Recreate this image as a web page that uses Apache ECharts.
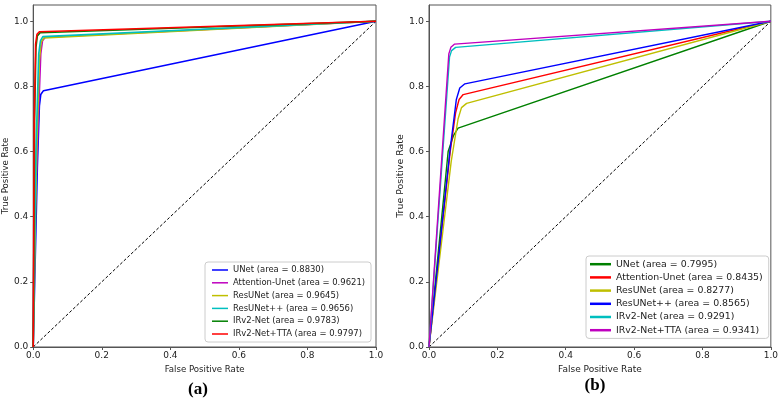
<!DOCTYPE html>
<html>
<head>
<meta charset="utf-8">
<script src="https://cdn.jsdelivr.net/npm/echarts@6/dist/echarts.min.js"></script>
<style>
html,body{margin:0;padding:0;background:#fff;}
#chart{width:781px;height:398px;}
</style>
</head>
<body>
<div id="chart"></div>
<script>
// ---------- DATA ----------
const tickValues = [0, 0.2, 0.4, 0.6, 0.8, 1.0];
const diagonal = [[0, 0], [1, 1]];

// Panel (a): ROC points [FPR, TPR]
const aLabels = [
  'UNet (area = 0.8830)',
  'Attention-Unet (area = 0.9621)',
  'ResUNet (area = 0.9645)',
  'ResUNet++ (area = 0.9656)',
  'IRv2-Net (area = 0.9783)',
  'IRv2-Net+TTA (area = 0.9797)'
];
const aUNet = [[0, 0], [0.012, 0.55], [0.018, 0.74], [0.022, 0.775], [0.03, 0.787], [1, 1]];
const aAttention = [[0, 0], [0.002, 0.3], [0.015, 0.7], [0.022, 0.9], [0.027, 0.94], [0.035, 0.951], [1, 1]];
const aResUNet = [[0, 0], [0.01, 0.6], [0.018, 0.88], [0.023, 0.935], [0.031, 0.949], [1, 1]];
const aResUNetPP = [[0, 0], [0.008, 0.6], [0.016, 0.9], [0.021, 0.94], [0.028, 0.953], [1, 1]];
const aIRv2 = [[0, 0], [0.004, 0.7], [0.008, 0.92], [0.012, 0.955], [0.02, 0.965], [1, 1]];
const aIRv2TTA = [[0, 0], [0.003, 0.7], [0.007, 0.93], [0.011, 0.96], [0.018, 0.968], [1, 1]];

// Panel (b): ROC points [FPR, TPR]
const bLabels = [
  'UNet (area = 0.7995)',
  'Attention-Unet (area = 0.8435)',
  'ResUNet (area = 0.8277)',
  'ResUNet++ (area = 0.8565)',
  'IRv2-Net (area = 0.9291)',
  'IRv2-Net+TTA (area = 0.9341)'
];
const bUNet = [[0, 0], [0.056, 0.6], [0.072, 0.65], [0.085, 0.672], [1, 1]];
const bAttention = [[0, 0], [0.062, 0.6], [0.078, 0.72], [0.088, 0.76], [0.1, 0.775], [1, 1]];
const bResUNet = [[0, 0], [0.065, 0.57], [0.085, 0.7], [0.095, 0.735], [0.11, 0.748], [1, 1]];
const bResUNetPP = [[0, 0], [0.061, 0.6], [0.08, 0.76], [0.09, 0.795], [0.105, 0.808], [1, 1]];
const bIRv2 = [[0, 0], [0.06, 0.89], [0.066, 0.91], [0.078, 0.92], [1, 1]];
const bIRv2TTA = [[0, 0], [0.058, 0.9], [0.064, 0.92], [0.075, 0.93], [1, 1]];

// ---------- STYLE ----------
const aColors = ['#0000ff', '#bf00bf', '#bfbf00', '#00bfbf', '#008000', '#ff0000'];
const bColors = ['#008000', '#ff0000', '#bfbf00', '#0000ff', '#00bfbf', '#bf00bf'];
const FONT = 'DejaVu Sans';
const AXIS_COLOR = '#555';

const aData = [aUNet, aAttention, aResUNet, aResUNetPP, aIRv2, aIRv2TTA];
const bData = [bUNet, bAttention, bResUNet, bResUNetPP, bIRv2, bIRv2TTA];

function xAx(gi, fs, nameFs) {
  return {
    type: 'value', gridIndex: gi, min: 0, max: 1,
    name: 'False Positive Rate', nameLocation: 'middle', nameGap: 12,
    nameTextStyle: {fontFamily: FONT, fontSize: nameFs, color: '#222'},
    axisLine: {show: true, lineStyle: {color: AXIS_COLOR, width: 1}},
    axisTick: {show: true, length: 3, lineStyle: {color: AXIS_COLOR}, customValues: tickValues},
    axisLabel: {fontFamily: FONT, fontSize: fs, color: '#222', margin: 4,
      customValues: tickValues, formatter: v => v.toFixed(1)},
    splitLine: {show: false}
  };
}
function yAx(gi, fs, nameFs, nameGap) {
  return {
    type: 'value', gridIndex: gi, min: 0, max: 1.05,
    name: 'True Positive Rate', nameLocation: 'middle', nameGap: nameGap, nameRotate: 90,
    nameTextStyle: {fontFamily: FONT, fontSize: nameFs, color: '#222'},
    axisLine: {show: true, onZero: false, lineStyle: {color: AXIS_COLOR, width: 1}},
    axisTick: {show: true, length: 3, lineStyle: {color: AXIS_COLOR}, customValues: tickValues},
    axisLabel: {fontFamily: FONT, fontSize: fs, color: '#222', margin: 5,
      customValues: tickValues, formatter: v => v.toFixed(1)},
    splitLine: {show: false}
  };
}

const series = [];
aData.forEach((d, i) => series.push({
  type: 'line', name: aLabels[i], xAxisIndex: 0, yAxisIndex: 0, data: d,
  showSymbol: false, symbol: 'none', smooth: false, color: aColors[i],
  lineStyle: {width: 1.6, color: aColors[i]}, z: 3 + i, animation: false
}));
series.push({type: 'line', name: 'diagA', xAxisIndex: 0, yAxisIndex: 0, data: diagonal,
  showSymbol: false, symbol: 'none', lineStyle: {color: '#000', width: 1, type: [3, 2]}, z: 2, animation: false});
bData.forEach((d, i) => series.push({
  type: 'line', name: bLabels[i], xAxisIndex: 1, yAxisIndex: 1, data: d,
  showSymbol: false, symbol: 'none', smooth: false, color: bColors[i],
  lineStyle: {width: 1.4, color: bColors[i]}, z: 3 + i, animation: false
}));
series.push({type: 'line', name: 'diagB', xAxisIndex: 1, yAxisIndex: 1, data: diagonal,
  showSymbol: false, symbol: 'none', lineStyle: {color: '#000', width: 1, type: [3, 2]}, z: 2, animation: false});

const chart = echarts.init(document.getElementById('chart'), null, {renderer: 'canvas'});
chart.setOption({
  animation: false,
  backgroundColor: '#fff',
  grid: [
    {left: 33, top: 5, width: 343, height: 342, show: true, borderColor: AXIS_COLOR, borderWidth: 1, backgroundColor: 'transparent'},
    {left: 429, top: 5, width: 342, height: 342, show: true, borderColor: AXIS_COLOR, borderWidth: 1, backgroundColor: 'transparent'}
  ],
  xAxis: [xAx(0, 9, 8.6), xAx(1, 9, 9)],
  yAxis: [yAx(0, 9, 8.6, 22), yAx(1, 9.4, 9.4, 23)],
  legend: [
    {
      data: aLabels, orient: 'vertical', left: 205, top: 262,
      padding: [2, 6, 2, 7], itemGap: 0.8, itemWidth: 16, itemHeight: 1.5, icon: 'rect',
      backgroundColor: '#fff', borderColor: '#ccc', borderWidth: 1, borderRadius: 3,
      textStyle: {fontFamily: FONT, fontSize: 8.45, color: '#222', lineHeight: 12},
      itemStyle: {borderWidth: 0}, selectedMode: false
    },
    {
      data: bLabels, orient: 'vertical', left: 586, top: 256,
      padding: [2, 6, 2, 4], itemGap: 0.8, itemWidth: 21, itemHeight: 2.5, icon: 'rect',
      backgroundColor: '#fff', borderColor: '#ccc', borderWidth: 1, borderRadius: 3,
      textStyle: {fontFamily: FONT, fontSize: 9.4, color: '#222', lineHeight: 12.4},
      itemStyle: {borderWidth: 0}, selectedMode: false
    }
  ],
  title: [
    {text: '{p|(}{b|a}{p|)}', left: 193, top: 376, textAlign: 'center',
      textStyle: {rich: {p: {fontFamily: 'Liberation Serif', fontSize: 17, color: '#000'},
        b: {fontFamily: 'Liberation Serif', fontSize: 17, fontWeight: 'bold', color: '#000'}}}},
    {text: '{p|(}{b|b}{p|)}', left: 590, top: 372, textAlign: 'center',
      textStyle: {rich: {p: {fontFamily: 'Liberation Serif', fontSize: 17, color: '#000'},
        b: {fontFamily: 'Liberation Serif', fontSize: 17, fontWeight: 'bold', color: '#000'}}}}
  ],
  series: series
});
</script>
</body>
</html>
